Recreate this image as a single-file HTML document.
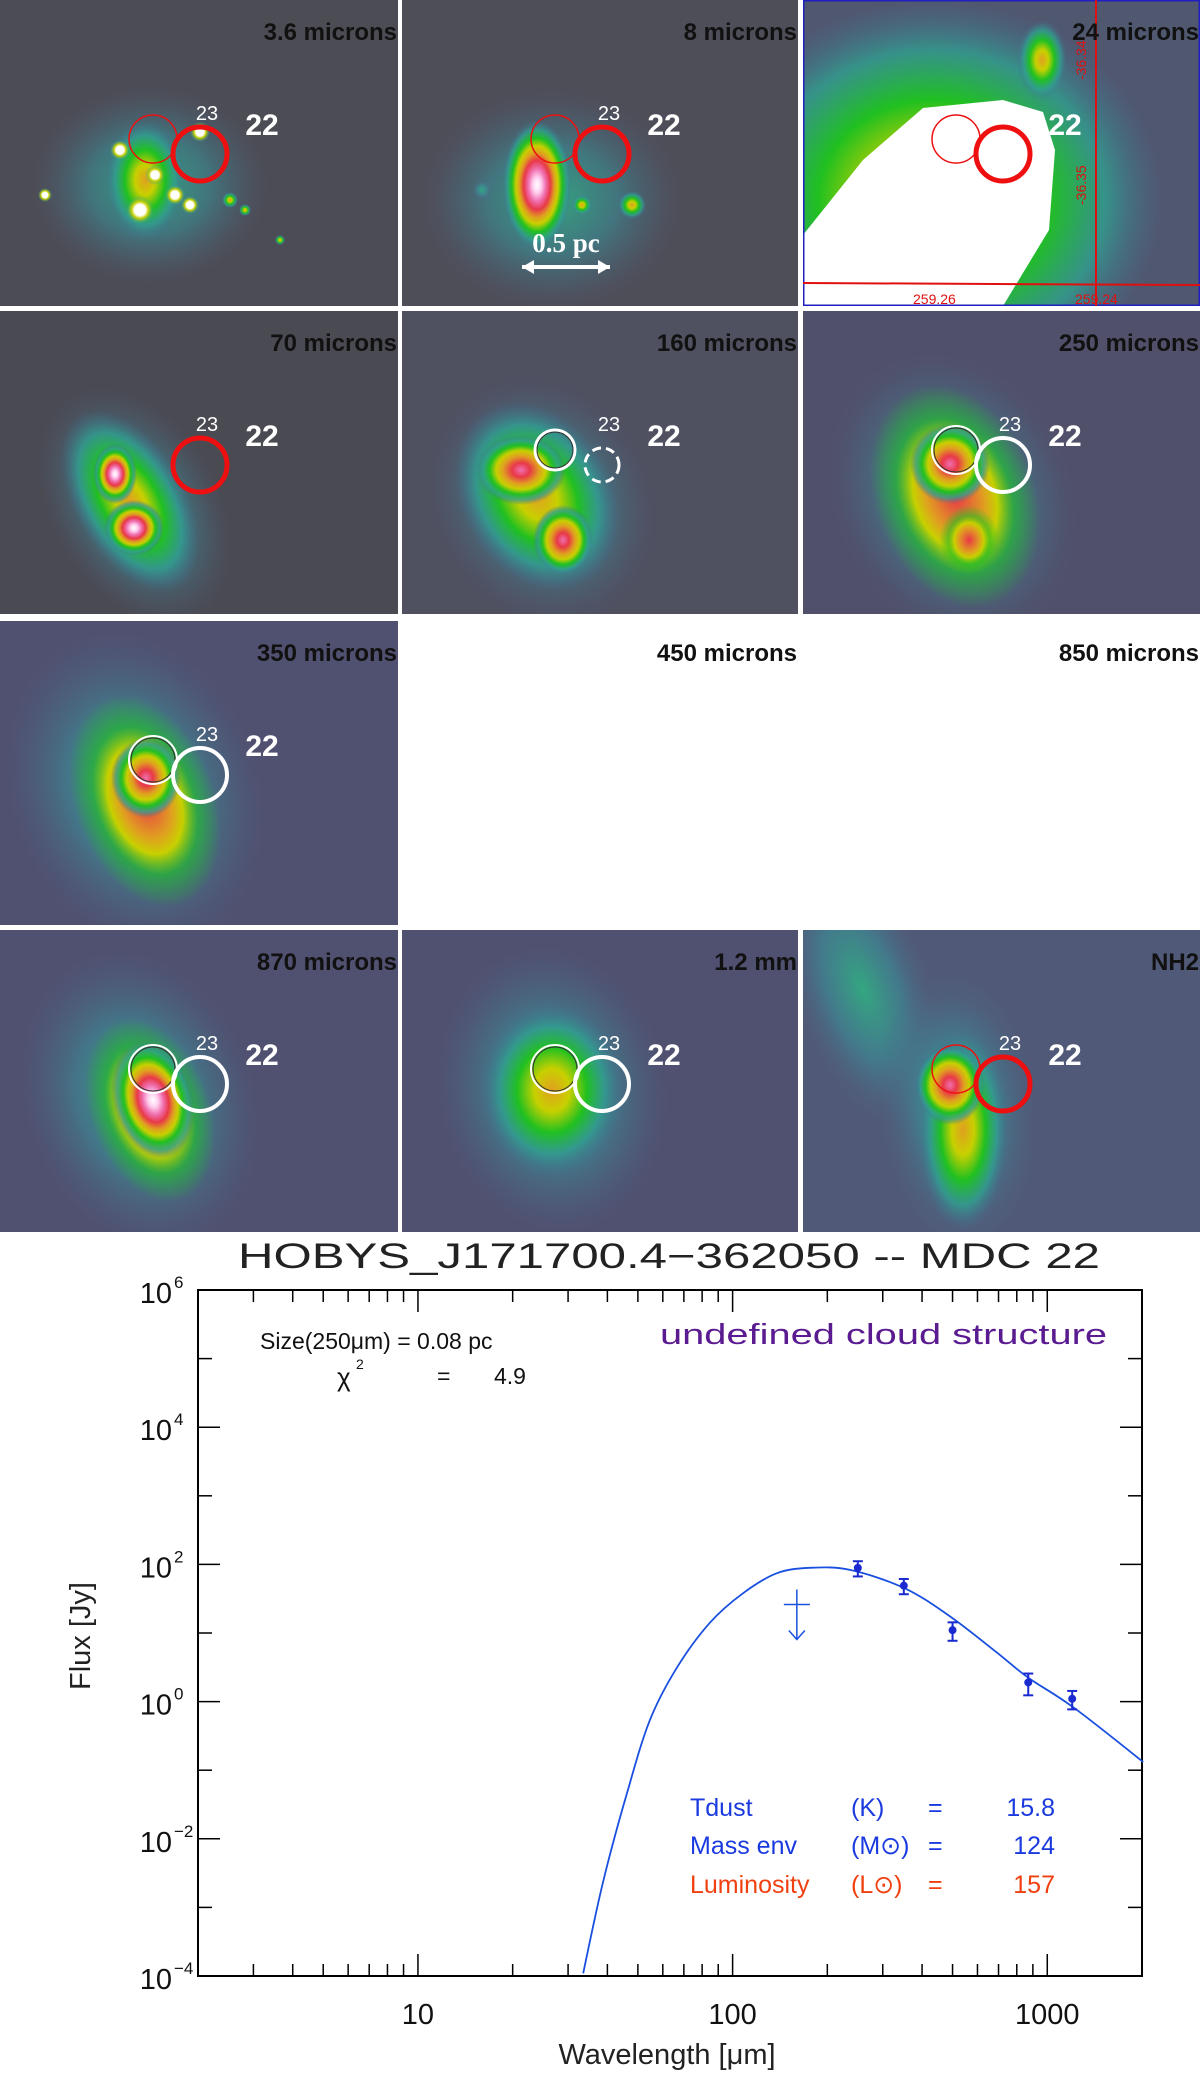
<!DOCTYPE html>
<html><head><meta charset="utf-8"><style>
html,body{margin:0;padding:0;background:#fff;}
body{width:1200px;height:2087px;position:relative;overflow:hidden;font-family:"Liberation Sans",sans-serif;}
svg{position:absolute;left:0;top:0;}
</style></head><body>
<svg id="topsvg" width="1200" height="1232" viewBox="0 0 1200 1232">
<defs>
<radialGradient id="hot"><stop offset="0" stop-color="#ffffff"/><stop offset="0.12" stop-color="#ffd0f0"/><stop offset="0.25" stop-color="#f070b0"/><stop offset="0.38" stop-color="#e83848"/><stop offset="0.5" stop-color="#e0a020"/><stop offset="0.6" stop-color="#c8d000"/><stop offset="0.72" stop-color="#20c020"/><stop offset="0.86" stop-color="#30a090" stop-opacity="0.8"/><stop offset="1" stop-color="#407090" stop-opacity="0"/></radialGradient>
<radialGradient id="warm"><stop offset="0" stop-color="#f070b0"/><stop offset="0.2" stop-color="#e83848"/><stop offset="0.4" stop-color="#e0a020"/><stop offset="0.55" stop-color="#c8d000"/><stop offset="0.7" stop-color="#20c020"/><stop offset="0.85" stop-color="#30a090" stop-opacity="0.8"/><stop offset="1" stop-color="#407090" stop-opacity="0"/></radialGradient>
<radialGradient id="red"><stop offset="0" stop-color="#e83848"/><stop offset="0.35" stop-color="#e0a020"/><stop offset="0.5" stop-color="#c8d000"/><stop offset="0.7" stop-color="#20c020" stop-opacity="0.6"/><stop offset="1" stop-color="#20c020" stop-opacity="0"/></radialGradient>
<radialGradient id="mild"><stop offset="0" stop-color="#e0a020"/><stop offset="0.25" stop-color="#c8d000"/><stop offset="0.5" stop-color="#20c020"/><stop offset="0.75" stop-color="#30a090" stop-opacity="0.8"/><stop offset="1" stop-color="#407090" stop-opacity="0"/></radialGradient>
<radialGradient id="cool"><stop offset="0" stop-color="#30b080" stop-opacity="0.9"/><stop offset="0.5" stop-color="#3a8f98" stop-opacity="0.6"/><stop offset="1" stop-color="#506080" stop-opacity="0"/></radialGradient>
<radialGradient id="star"><stop offset="0" stop-color="#fff"/><stop offset="0.4" stop-color="#fff"/><stop offset="0.6" stop-color="#c8d000"/><stop offset="1" stop-color="#30a090" stop-opacity="0"/></radialGradient>
</defs>
</svg>
<svg id="chart" width="1200" height="2087" viewBox="0 0 1200 2087" style="pointer-events:none"></svg>
<script>
var NS="http://www.w3.org/2000/svg";
function mk(p,t,a){const e=document.createElementNS(NS,t);for(const k in a)e.setAttribute(k,a[k]);p.appendChild(e);return e;}
const topSvg=document.getElementById('topsvg');
const cols=[[0,398],[402,798],[803,1200]];
const rows=[[0,306],[311,614],[621,925],[930,1232]];
const panels=[
 {lab:"3.6 microns",bg:"#4c4c54",r:0,c:0,circ:"red",blobs:[[150,185,120,100,0,"cool"],[145,180,40,60,0,"mild"],[120,150,10,10,0,"star"],[155,175,10,10,0,"star"],[140,210,14,14,0,"star"],[175,195,10,10,0,"star"],[200,132,10,10,0,"star"],[190,205,9,9,0,"star"],[45,195,7,7,0,"star"],[230,200,8,8,0,"mild"],[245,210,6,6,0,"mild"],[280,240,5,5,0,"mild"]]},
 {lab:"8 microns",bg:"#4e4e58",r:0,c:1,circ:"red",blobs:[[150,200,130,110,0,"cool"],[135,185,35,65,0,"hot"],[230,205,14,14,0,"mild"],[180,205,10,10,0,"mild"],[80,190,10,10,0,"cool"]]},
 {lab:"24 microns",bg:"#505870",r:0,c:2,circ:"red",blobs:[[130,200,230,200,0,"mild"],[239,60,25,40,0,"mild"]],white:true},
 {lab:"70 microns",bg:"#4a4a52",r:1,c:0,circ:"red1",blobs:[[135,195,85,130,-30,"cool"],[130,190,55,100,-30,"mild"],[115,163,22,30,0,"hot"],[134,217,30,28,0,"hot"]]},
 {lab:"160 microns",bg:"#4f5060",r:1,c:1,circ:"white-dash",blobs:[[140,190,110,130,-30,"cool"],[135,185,75,100,-30,"mild"],[119,159,45,35,0,"warm"],[161,229,30,35,0,"warm"]]},
 {lab:"250 microns",bg:"#50506a",r:1,c:2,circ:"white",blobs:[[150,185,120,150,-25,"cool"],[152,185,80,115,-20,"red"],[147,153,40,40,0,"warm"],[166,229,30,35,0,"red"]]},
 {lab:"350 microns",bg:"#505070",r:2,c:0,circ:"white",blobs:[[135,170,130,170,-20,"cool"],[145,180,70,110,-20,"red"],[146,157,35,40,0,"warm"]]},
 {lab:"450 microns",empty:true,r:2,c:1},
 {lab:"850 microns",empty:true,r:2,c:2},
 {lab:"870 microns",bg:"#505070",r:3,c:0,circ:"white",blobs:[[140,170,120,160,-20,"cool"],[150,180,60,95,-20,"red"],[153,170,40,60,-15,"hot"]]},
 {lab:"1.2 mm",bg:"#505070",r:3,c:1,circ:"white",blobs:[[150,160,120,150,-10,"cool"],[150,160,70,85,0,"mild"]]},
 {lab:"NH2",bg:"#505a78",r:3,c:2,circ:"red",blobs:[[60,60,70,150,-20,"cool"],[155,180,80,140,-5,"cool"],[160,200,45,100,0,"mild"],[147,155,35,40,0,"warm"]]}
];
panels.forEach((p,i)=>{
 const x0=cols[p.c][0],w=cols[p.c][1]-cols[p.c][0],y0=rows[p.r][0],h=rows[p.r][1]-rows[p.r][0];
 const g=mk(topSvg,'g',{transform:`translate(${x0},${y0})`});
 
 
 const cid='cp'+i;mk(mk(topSvg,'clipPath',{id:cid}),'rect',{x:0,y:0,width:w,height:h});
 const gi=mk(g,'g',{'clip-path':`url(#${cid})`});
 if(!p.empty){
  mk(gi,'rect',{x:0,y:0,width:w,height:h,fill:p.bg});
  p.blobs.forEach(b=>mk(gi,'ellipse',{cx:b[0],cy:b[1],rx:b[2],ry:b[3],transform:`rotate(${b[4]} ${b[0]} ${b[1]})`,fill:`url(#${b[5]})`}));
  if(p.white){
   mk(gi,'path',{d:"M0 235 L60 160 L120 108 L200 100 L240 112 L252 150 L246 230 L200 306 L0 306 Z",fill:"#ffffff"});
   mk(gi,'rect',{x:0.5,y:0.5,width:w-1,height:h-1,fill:"none",stroke:"#2020c0","stroke-width":2});
   mk(gi,'line',{x1:0,y1:283,x2:w,y2:285,stroke:"#e01010","stroke-width":2});
   mk(gi,'line',{x1:293,y1:0,x2:293,y2:h,stroke:"#e01010","stroke-width":2});
   const t1=mk(gi,'text',{x:110,y:304,fill:"#e01010","font-size":14});t1.textContent="259.26";
   const t2=mk(gi,'text',{x:272,y:304,fill:"#e01010","font-size":14});t2.textContent="259.24";
   const t3=mk(gi,'text',{x:0,y:0,fill:"#e01010","font-size":14,transform:"translate(283,80) rotate(-90)"});t3.textContent="-36.34";
   const t4=mk(gi,'text',{x:0,y:0,fill:"#e01010","font-size":14,transform:"translate(283,205) rotate(-90)"});t4.textContent="-36.35";
  }
  const c23={cx:153,cy:139,r:24},c22={cx:200,cy:154,r:27};
  if(p.circ==="red"||p.circ==="red1"){
   if(p.circ==="red")mk(gi,'circle',Object.assign({},c23,{fill:"none",stroke:"#ee1010","stroke-width":1.5}));
   mk(gi,'circle',Object.assign({},c22,{fill:"none",stroke:"#ee1010","stroke-width":5}));
  }else if(p.circ==="white-dash"){
   mk(gi,'circle',{cx:153,cy:139,r:20,fill:"none",stroke:"#fff","stroke-width":3});
   mk(gi,'circle',{cx:153,cy:139,r:18,fill:"none",stroke:"#333","stroke-width":1});
   mk(gi,'circle',{cx:200,cy:154,r:17,fill:"none",stroke:"#fff","stroke-width":3,"stroke-dasharray":"9 5"});
  }else{
   mk(gi,'circle',Object.assign({},c23,{fill:"none",stroke:"#fff","stroke-width":2}));
   mk(gi,'circle',{cx:153,cy:139,r:22,fill:"none",stroke:"#333","stroke-width":1});
   mk(gi,'circle',Object.assign({},c22,{fill:"none",stroke:"#fff","stroke-width":4}));
  }
  const n23=mk(gi,'text',{x:207,y:120,fill:"#fff","font-size":20,"text-anchor":"middle"});n23.textContent="23";
  const n22=mk(gi,'text',{x:262,y:135,fill:"#fff","font-size":30,"font-weight":"bold","text-anchor":"middle"});n22.textContent="22";
 }
 const lt=mk(gi,'text',{x:w-1,y:40,fill:"#111","font-size":24,"font-weight":"bold","text-anchor":"end"});lt.textContent=p.lab;
 if(i===1){
  mk(gi,'path',{d:"M120 267 L208 267",stroke:"#fff","stroke-width":4});
  mk(gi,'path',{d:"M120 267 l12 -7 v14 z M208 267 l-12 -7 v14 z",fill:"#fff"});
  const s=mk(gi,'text',{x:164,y:252,fill:"#fff","font-size":27,"font-weight":"bold","font-family":"Liberation Serif, serif","text-anchor":"middle"});s.textContent="0.5 pc";
 }
});
</script>
<script>
const modelLam=[33.5,38.7,46.2,54.6,66.6,84.7,108,138,176,236,353,495,694,869,1216,2018];
const modelLogFlux=[-3.96,-2.64,-1.33,-0.27,0.50,1.15,1.58,1.87,1.95,1.92,1.65,1.23,0.71,0.35,-0.09,-0.88];
const dataLam=[250,350,500,870,1200];
const dataFlux=[89,49,11,1.9,1.1];
const dataErrFrac=[0.25,0.25,0.3,0.35,0.3];
const limitLam=[160];
const limitFlux=[26];
const yTickExp=[6,4,2,0,-2,-4];
const xTickVals=[10,100,1000];
const L=198,R=1142,T=1290,B=1976;
const xMinLog=Math.log10(2),xMaxLog=Math.log10(2000),yMinLog=-4,yMaxLog=6;
const sx=v=>L+(Math.log10(v)-xMinLog)/(xMaxLog-xMinLog)*(R-L);
const sy=lv=>B-(lv-yMinLog)/(yMaxLog-yMinLog)*(B-T);
const ch=document.getElementById('chart');
const SNS="http://www.w3.org/2000/svg";
function ce(t,a){const e=document.createElementNS(SNS,t);for(const k in a)e.setAttribute(k,a[k]);ch.appendChild(e);return e;}
function tx(x,y,s,opt){const e=ce('text',Object.assign({x:x,y:y,'font-family':'Liberation Sans, sans-serif'},opt));e.textContent=s;return e;}
const frame=ce('rect',{x:L,y:T,width:R-L,height:B-T,fill:'none',stroke:'#000','stroke-width':2});


for(let e=-4;e<=6;e++){const y=sy(e);const len=(e%2===0)?22:14;
 ce('line',{x1:L,y1:y,x2:L+len,y2:y,stroke:'#000','stroke-width':1.5});
 ce('line',{x1:R,y1:y,x2:R-len,y2:y,stroke:'#000','stroke-width':1.5});}
yTickExp.forEach(e=>{const y=sy(e);
 const t=tx(172,y+13,'10',{'font-size':29,'text-anchor':'end',fill:'#111'});
 
 
 tx(174,y-2,String(e).replace('-','\u2212'),{'font-size':17,fill:'#111'});});
for(let d=0;d<4;d++)for(let m=1;m<10;m++){const v=m*Math.pow(10,d);if(v<2||v>2000)continue;const x=sx(v);const len=m===1?22:12;
 ce('line',{x1:x,y1:B,x2:x,y2:B-len,stroke:'#000','stroke-width':1.5});
 ce('line',{x1:x,y1:T,x2:x,y2:T+len,stroke:'#000','stroke-width':1.5});}
xTickVals.forEach(v=>{const t=tx(sx(v),2024,String(v),{'font-size':29,'text-anchor':'middle',fill:'#111'});
 
 });
const pts=modelLam.map((l,i)=>[sx(l),sy(modelLogFlux[i])]);
let d='M'+pts[0][0].toFixed(1)+' '+pts[0][1].toFixed(1);
for(let i=0;i<pts.length-1;i++){const p0=pts[Math.max(0,i-1)],p1=pts[i],p2=pts[i+1],p3=pts[Math.min(pts.length-1,i+2)];
 const c1=[p1[0]+(p2[0]-p0[0])/6,p1[1]+(p2[1]-p0[1])/6],c2=[p2[0]-(p3[0]-p1[0])/6,p2[1]-(p3[1]-p1[1])/6];
 d+=` C${c1[0].toFixed(1)} ${c1[1].toFixed(1)} ${c2[0].toFixed(1)} ${c2[1].toFixed(1)} ${p2[0].toFixed(1)} ${p2[1].toFixed(1)}`;}
const cv=ce('path',{d:d,fill:'none',stroke:'#1a50e0','stroke-width':1.8});


dataLam.forEach((l,i)=>{const x=sx(l),y=sy(Math.log10(dataFlux[i]));
 const y1=sy(Math.log10(dataFlux[i]*(1+dataErrFrac[i]))),y2=sy(Math.log10(dataFlux[i]*(1-dataErrFrac[i])));
 const g=ce('g',{stroke:'#1a2ad0','stroke-width':2});
 
 
 const a=(t,o)=>{const e=document.createElementNS(SNS,t);for(const k in o)e.setAttribute(k,o[k]);g.appendChild(e);};
 a('line',{x1:x,y1:y1,x2:x,y2:y2});a('line',{x1:x-5,y1:y1,x2:x+5,y2:y1});a('line',{x1:x-5,y1:y2,x2:x+5,y2:y2});
 a('circle',{cx:x,cy:y,r:3,fill:'#1a2ad0'});});
limitLam.forEach((l,i)=>{const x=sx(l),y=sy(Math.log10(limitFlux[i]));
 const g=ce('g',{stroke:'#1a50e0','stroke-width':1.5,fill:'none'});
 
 
 const a=(t,o)=>{const e=document.createElementNS(SNS,t);for(const k in o)e.setAttribute(k,o[k]);g.appendChild(e);};
 a('line',{x1:x-13,y1:y,x2:x+13,y2:y});a('line',{x1:x,y1:y-15,x2:x,y2:y+35});a('path',{d:`M${x-8} ${y+26} L${x} ${y+35} L${x+8} ${y+26}`});});
const ti=tx(669,1268,'HOBYS_J171700.4\u2212362050   --   MDC 22',{'font-size':35,'text-anchor':'middle',fill:'#222',textLength:862,lengthAdjust:'spacingAndGlyphs'});


tx(260,1349,'Size(250\u03bcm) = 0.08 pc',{'font-size':23,fill:'#111'});
tx(337,1386,'\u03c7',{'font-size':26,fill:'#111'});tx(356,1369,'2',{'font-size':14,fill:'#111'});
tx(437,1384,'=',{'font-size':23,fill:'#111'});tx(494,1384,'4.9',{'font-size':23,fill:'#111'});
const cs=tx(660,1344,'undefined cloud structure',{'font-size':29,fill:'#5a1a90',textLength:447,lengthAdjust:'spacingAndGlyphs'});


[['Tdust','(K)','15.8','#1a3ae0',1816],['Mass env','(M\u2299)','124','#1a3ae0',1854],['Luminosity','(L\u2299)','157','#f04010',1893]].forEach(r=>{
 tx(690,r[4],r[0],{'font-size':25,fill:r[3]});tx(851,r[4],r[1],{'font-size':25,fill:r[3]});
 tx(928,r[4],'=',{'font-size':25,fill:r[3]});tx(1055,r[4],r[2],{'font-size':25,fill:r[3],'text-anchor':'end'});});
const xl=tx(667,2064,'Wavelength [\u03bcm]',{'font-size':29,'text-anchor':'middle',fill:'#222'});


const yl=tx(0,0,'Flux  [Jy]',{'font-size':29,'text-anchor':'middle',fill:'#222',transform:'translate(90,1636) rotate(-90)'});


</script>
</body></html>
